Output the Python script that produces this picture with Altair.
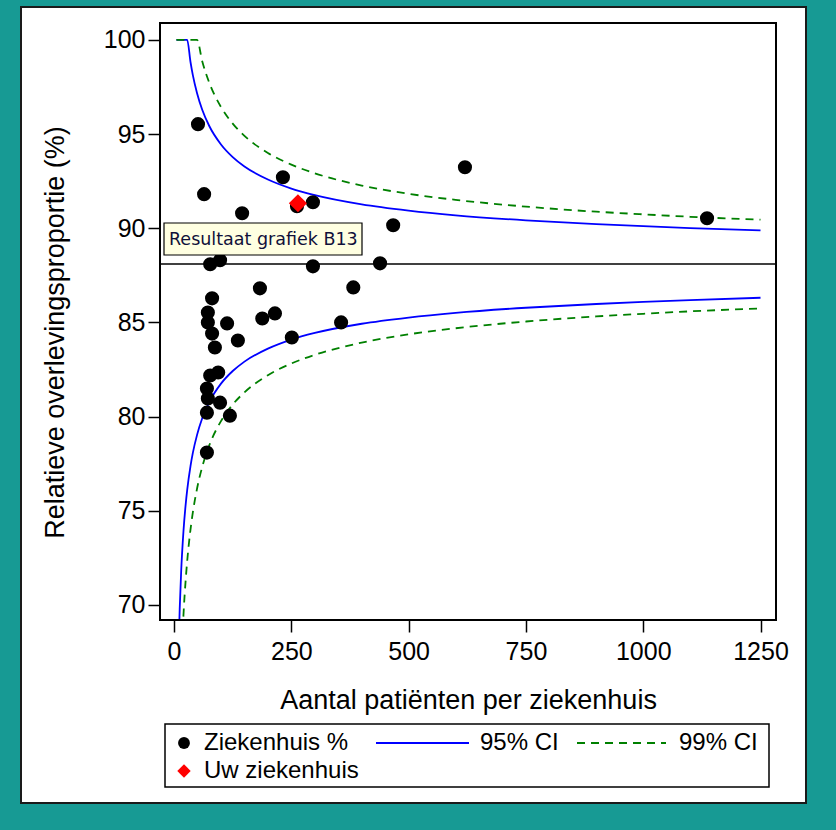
import altair as alt
import pandas as pd

# ---------------- data ----------------
hosp_n = [51, 64, 145, 232, 262, 296, 467, 620, 1136, 77, 98, 296, 439, 183, 382,
          81, 72, 72, 81, 87, 113, 136, 188, 215, 356, 251, 77, 94, 70, 72, 98,
          119, 70, 70]
hosp_pct = [95.53, 91.81, 90.80, 92.71, 91.17, 91.38, 90.16, 93.24, 90.53, 88.09,
            88.30, 87.98, 88.14, 86.81, 86.86, 86.28, 85.53, 85.00, 84.41, 83.67,
            84.95, 84.04, 85.21, 85.48, 85.00, 84.20, 82.18, 82.34, 81.49, 80.96,
            80.74, 80.05, 80.21, 78.09]
own_n = [264]
own_pct = [91.33]
target = [88.1]

ci_n = [5, 7, 10, 12, 15, 20, 25, 28, 35, 40, 49, 60, 75, 100, 125, 150, 200, 250,
        300, 400, 500, 600, 750, 900, 1000, 1100, 1250]
upper95 = [100, 100, 100, 100, 100, 100, 100, 100, 98.83, 98.13, 97.17, 96.29, 95.43,
           94.45, 93.78, 93.28, 92.59, 92.11, 91.76, 91.27, 90.94, 90.69, 90.42, 90.22,
           90.11, 90.01, 89.89]
lower95 = [59.72, 64.12, 68.03, 69.78, 71.71, 73.91, 75.41, 76.11, 77.37, 78.07, 79.03,
           79.91, 80.77, 81.75, 82.42, 82.92, 83.61, 84.09, 84.44, 84.93, 85.26, 85.51,
           85.78, 85.98, 86.09, 86.19, 86.31]
upper99 = [100, 100, 100, 100, 100, 100, 100, 100, 100, 100, 100, 98.87, 97.73, 96.44,
           95.56, 94.91, 94.00, 93.38, 92.92, 92.27, 91.83, 91.51, 91.15, 90.88, 90.74,
           90.61, 90.46]
lower99 = [50.80, 56.58, 61.72, 64.02, 66.56, 69.45, 71.42, 72.34, 74.00, 74.91, 76.18,
           77.33, 78.47, 79.76, 80.64, 81.29, 82.20, 82.82, 83.28, 83.93, 84.37, 84.69,
           85.05, 85.32, 85.46, 85.59, 85.74]

x_ticks = [0, 250, 500, 750, 1000, 1250]
y_ticks = [70, 75, 80, 85, 90, 95, 100]
legend_labels = ["Ziekenhuis %", "95% CI", "99% CI", "Uw ziekenhuis"]
note_text = "Resultaat grafiek B13"

# ---------------- tables ----------------
hosp = pd.DataFrame({"n": hosp_n, "pct": hosp_pct})
own = pd.DataFrame({"n": own_n, "pct": own_pct})
tgt = pd.DataFrame({"pct": target})
ci95 = pd.concat([
    pd.DataFrame({"n": ci_n, "pct": upper95, "side": "upper"}),
    pd.DataFrame({"n": ci_n, "pct": lower95, "side": "lower"}),
])
ci99 = pd.concat([
    pd.DataFrame({"n": ci_n, "pct": upper99, "side": "upper"}),
    pd.DataFrame({"n": ci_n, "pct": lower99, "side": "lower"}),
])

FONT = "Liberation Sans"
W, H = 616, 597

xs = alt.Scale(domain=[-30, 1283], nice=False, zero=False)
ys = alt.Scale(domain=[69.2, 100.9], nice=False, zero=False)

X = alt.X("n:Q", scale=xs, axis=alt.Axis(
    values=x_ticks, format="d", title="Aantal patiënten per ziekenhuis", grid=False,
    domain=False, tickSize=12, tickWidth=1.5, tickColor="black",
    labelFont=FONT, labelFontSize=25, labelColor="black", labelPadding=7,
    titleFont=FONT, titleFontSize=27, titleFontWeight="normal", titleColor="black",
    titleY=80, titleBaseline="middle", zindex=1))
Y = alt.Y("pct:Q", scale=ys, axis=alt.Axis(
    values=y_ticks, title="Relatieve overlevingsproportie (%)", grid=False,
    domain=False, tickSize=12, tickWidth=1.5, tickColor="black",
    labelFont=FONT, labelFontSize=25, labelColor="black", labelPadding=3,
    titleFont=FONT, titleFontSize=27, titleFontWeight="normal", titleColor="black",
    titleX=-105, titleY=309, titleBaseline="middle", zindex=1))


def one():
    return pd.DataFrame({"k": [0]})


# white panel behind everything
panel = alt.Chart(one()).mark_rect(fill="white", stroke="#1a1a1a", strokeWidth=2).encode(
    x=alt.value(-139), x2=alt.value(646), y=alt.value(-16), y2=alt.value(780))

base_line = alt.Chart(tgt).mark_rule(color="black", strokeWidth=1.5).encode(y=alt.Y("pct:Q", scale=ys))

l95 = alt.Chart(ci95).mark_line(color="#0000ff", strokeWidth=1.8, clip=True, interpolate="monotone").encode(
    x=X, y=Y, detail="side:N")
l99 = alt.Chart(ci99).mark_line(color="#008000", strokeWidth=1.8, strokeDash=[8, 6], clip=True,
                                interpolate="monotone").encode(x=X, y=Y, detail="side:N")

dots = alt.Chart(hosp).mark_point(shape="circle", filled=True, color="black", size=200, opacity=1).encode(x=X, y=Y)
red = alt.Chart(own).mark_point(shape="diamond", filled=True, color="#ff0000", size=330, opacity=1).encode(x=X, y=Y)

frame = alt.Chart(one()).mark_rect(fill="transparent", stroke="black", strokeWidth=2).encode(
    x=alt.value(0), x2=alt.value(W), y=alt.value(0), y2=alt.value(H))

# annotation box
note_box = alt.Chart(one()).mark_rect(fill="#ffffe1", stroke="black", strokeWidth=1.2).encode(
    x=alt.value(4), x2=alt.value(202), y=alt.value(200), y2=alt.value(232))
note = alt.Chart(one()).mark_text(font="DejaVu Sans", fontSize=17.5, color="#10103a", align="left",
                                  baseline="middle").encode(
    x=alt.value(9), y=alt.value(217), text=alt.value(note_text))

# legend (drawn by hand)
leg_box = alt.Chart(one()).mark_rect(fill="white", stroke="black", strokeWidth=1.5).encode(
    x=alt.value(5), x2=alt.value(609), y=alt.value(701), y2=alt.value(764))
leg_dot = alt.Chart(one()).mark_point(shape="circle", filled=True, color="black", size=140, opacity=1).encode(
    x=alt.value(24), y=alt.value(720))
leg_dia = alt.Chart(one()).mark_point(shape="diamond", filled=True, color="#ff0000", size=180, opacity=1).encode(
    x=alt.value(24), y=alt.value(748))
leg_l95 = alt.Chart(one()).mark_rule(color="#0000ff", strokeWidth=1.8).encode(
    x=alt.value(216), x2=alt.value(309), y=alt.value(720))
leg_l99 = alt.Chart(one()).mark_rule(color="#008000", strokeWidth=1.8, strokeDash=[8, 6]).encode(
    x=alt.value(417), x2=alt.value(506), y=alt.value(720))


def leg_text(label, x, y):
    return alt.Chart(one()).mark_text(font=FONT, fontSize=24, color="black", align="left",
                                      baseline="middle").encode(
        x=alt.value(x), y=alt.value(y), text=alt.value(label))


legend = [
    leg_box, leg_dot, leg_dia, leg_l95, leg_l99,
    leg_text(legend_labels[0], 44, 720),
    leg_text(legend_labels[1], 320, 720),
    leg_text(legend_labels[2], 519, 720),
    leg_text(legend_labels[3], 44, 748),
]

chart = alt.layer(
    panel, base_line, l95, l99, dots, red, frame, note_box, note, *legend
).properties(
    width=W, height=H,
    padding={"left": 160, "top": 23, "right": 60, "bottom": 210},
    autosize=alt.AutoSizeParams(type="none"),
    background="#179a94",
).configure_view(strokeWidth=0)

chart.save("out.html", embed_options={"renderer": "svg", "actions": False})
